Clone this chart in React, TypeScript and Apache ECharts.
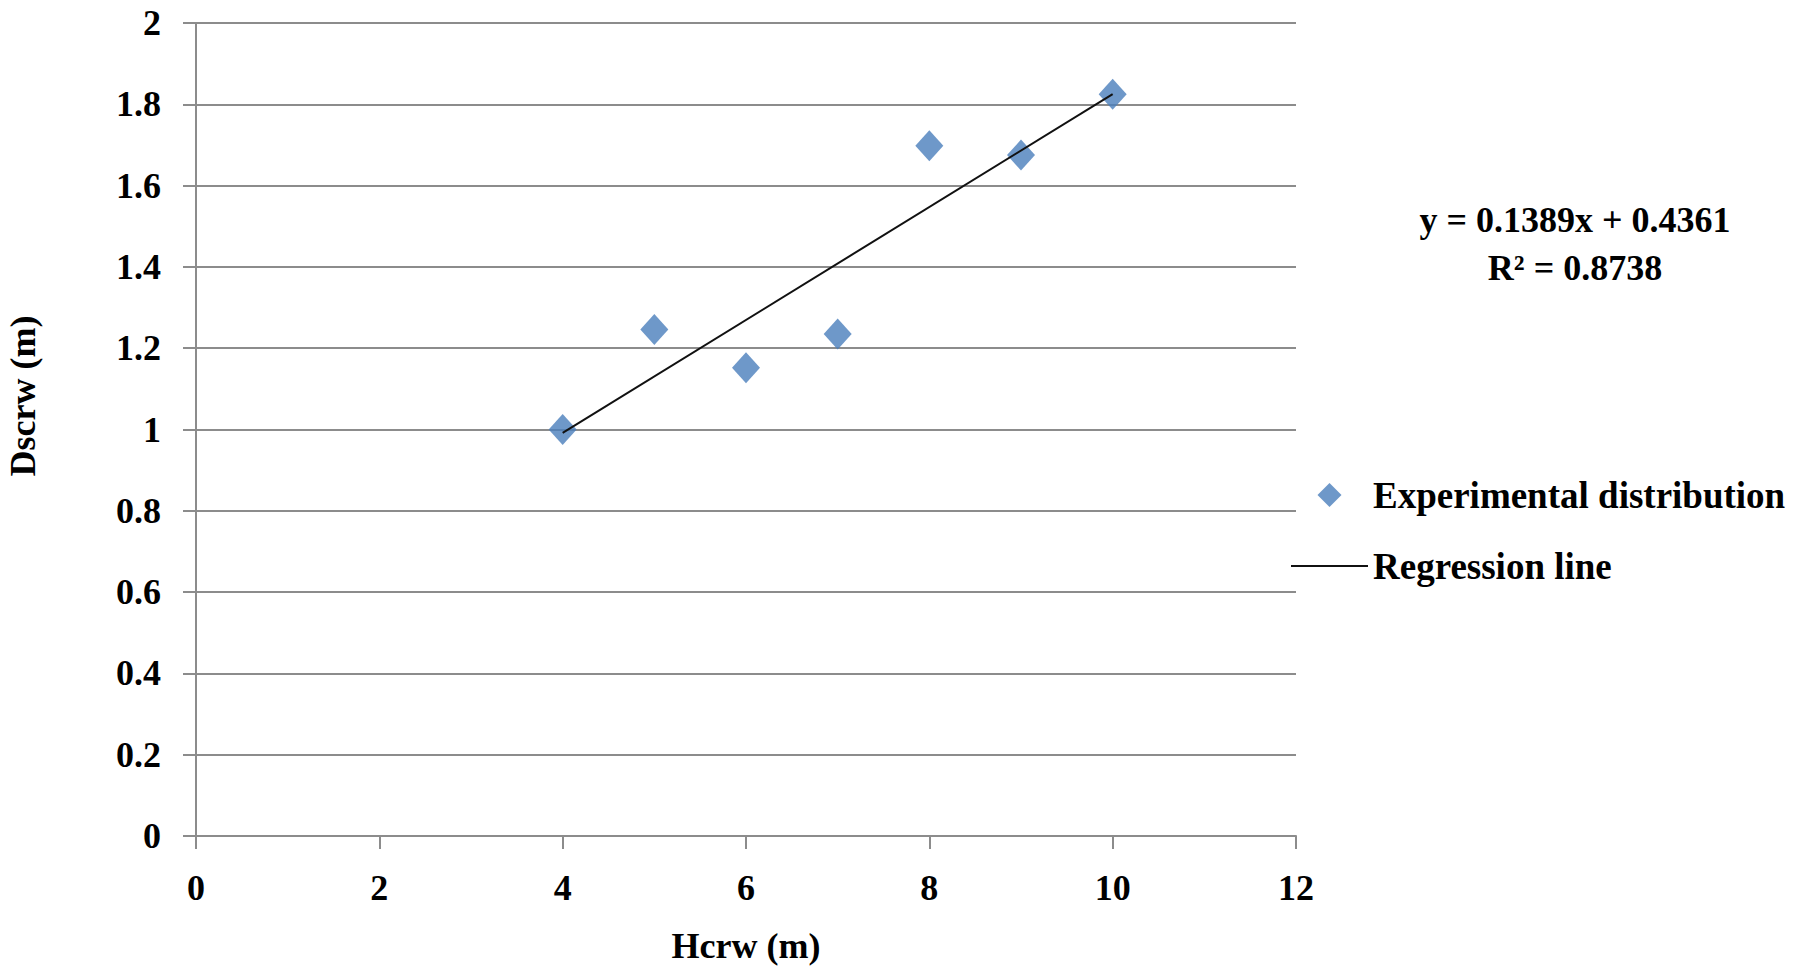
import React, { useEffect, useRef } from "react";
import * as echarts from "echarts";

const hcrw: number[] = [4, 5, 6, 7, 8, 9, 10];
const dscrw: number[] = [1.0, 1.246, 1.152, 1.235, 1.698, 1.675, 1.825];
const regressionX: number[] = [4, 10];
const regressionY: number[] = [0.9917, 1.8251];
const seriesNames: string[] = ["Experimental distribution", "Regression line"];
const equationLines: string[] = ["y = 0.1389x + 0.4361", "R\u00B2 = 0.8738"];
const xAxisTitle = "Hcrw (m)";
const yAxisTitle = "Dscrw (m)";

const FONT = "'Liberation Serif', 'Times New Roman', serif";
const GRID_COLOR = "#8c8c8c";
const BLUE = "#4A7EBB";

export default function App() {
  const ref = useRef<HTMLDivElement>(null);

  useEffect(() => {
    if (!ref.current) return;
    const chart = echarts.init(ref.current, null, { renderer: "svg" });
    const labelStyle = {
      fontFamily: FONT,
      fontWeight: "bold" as const,
      fontSize: 36,
      color: "#000",
    };
    chart.setOption({
      animation: false,
      backgroundColor: "#fff",
      grid: { left: 196, right: 504, top: 23, bottom: 136, containLabel: false },
      xAxis: {
        type: "value",
        min: 0,
        max: 12,
        interval: 2,
        name: xAxisTitle,
        nameLocation: "middle",
        nameGap: 92,
        nameTextStyle: { ...labelStyle, fontSize: 36 },
        axisLine: { show: true, lineStyle: { color: GRID_COLOR, width: 2 } },
        axisTick: { show: true, inside: false, length: 13, lineStyle: { color: GRID_COLOR, width: 2 } },
        axisLabel: { ...labelStyle, margin: 34 },
        splitLine: { show: false },
      },
      yAxis: {
        type: "value",
        min: 0,
        max: 2,
        interval: 0.2,
        axisLine: { show: true, lineStyle: { color: GRID_COLOR, width: 2 } },
        axisTick: { show: true, inside: false, length: 13, lineStyle: { color: GRID_COLOR, width: 2 } },
        axisLabel: { ...labelStyle, margin: 35 },
        splitLine: { show: true, lineStyle: { color: GRID_COLOR, width: 2 } },
      },
      legend: {
        orient: "vertical",
        left: 1285,
        top: 470,
        itemWidth: 77,
        itemHeight: 24,
        itemGap: 31,
        symbolKeepAspect: true,
        data: [
          { name: seriesNames[0], icon: "path://M0,-1L1,0L0,1L-1,0Z" },
          { name: seriesNames[1], itemStyle: { opacity: 0, borderWidth: 0 } },
        ],
        textStyle: { ...labelStyle, fontSize: 37, lineHeight: 40 },
      },
      series: [
        {
          name: seriesNames[0],
          type: "scatter",
          symbol: "diamond",
          symbolSize: [28, 31],
          itemStyle: { color: BLUE },
          data: hcrw.map((x, i) => [x, dscrw[i]]),
          z: 2,
        },
        {
          name: seriesNames[1],
          type: "line",
          symbol: "none",
          showSymbol: false,
          lineStyle: { color: "#111", width: 2 },
          itemStyle: { color: "#111" },
          data: regressionX.map((x, i) => [x, regressionY[i]]),
          z: 3,
        },
      ],
      graphic: [
        {
          type: "text",
          x: 23,
          y: 396,
          rotation: Math.PI / 2,
          style: {
            text: yAxisTitle,
            fontFamily: FONT,
            fontWeight: "bold",
            fontSize: 36,
            fill: "#000",
            align: "center",
            verticalAlign: "middle",
          },
        },
        {
          type: "text",
          x: 1575,
          y: 220,
          style: {
            text: equationLines[0],
            fontFamily: FONT,
            fontWeight: "bold",
            fontSize: 36,
            fill: "#000",
            align: "center",
            verticalAlign: "middle",
          },
        },
        {
          type: "text",
          x: 1575,
          y: 268,
          style: {
            text: equationLines[1],
            fontFamily: FONT,
            fontWeight: "bold",
            fontSize: 36,
            fill: "#000",
            align: "center",
            verticalAlign: "middle",
          },
        },
      ],
    });
    return () => chart.dispose();
  }, []);

  return (
    <div
      ref={ref}
      style={{ position: "fixed", left: 0, top: 0, width: 1800, height: 972, background: "#fff" }}
    />
  );
}
